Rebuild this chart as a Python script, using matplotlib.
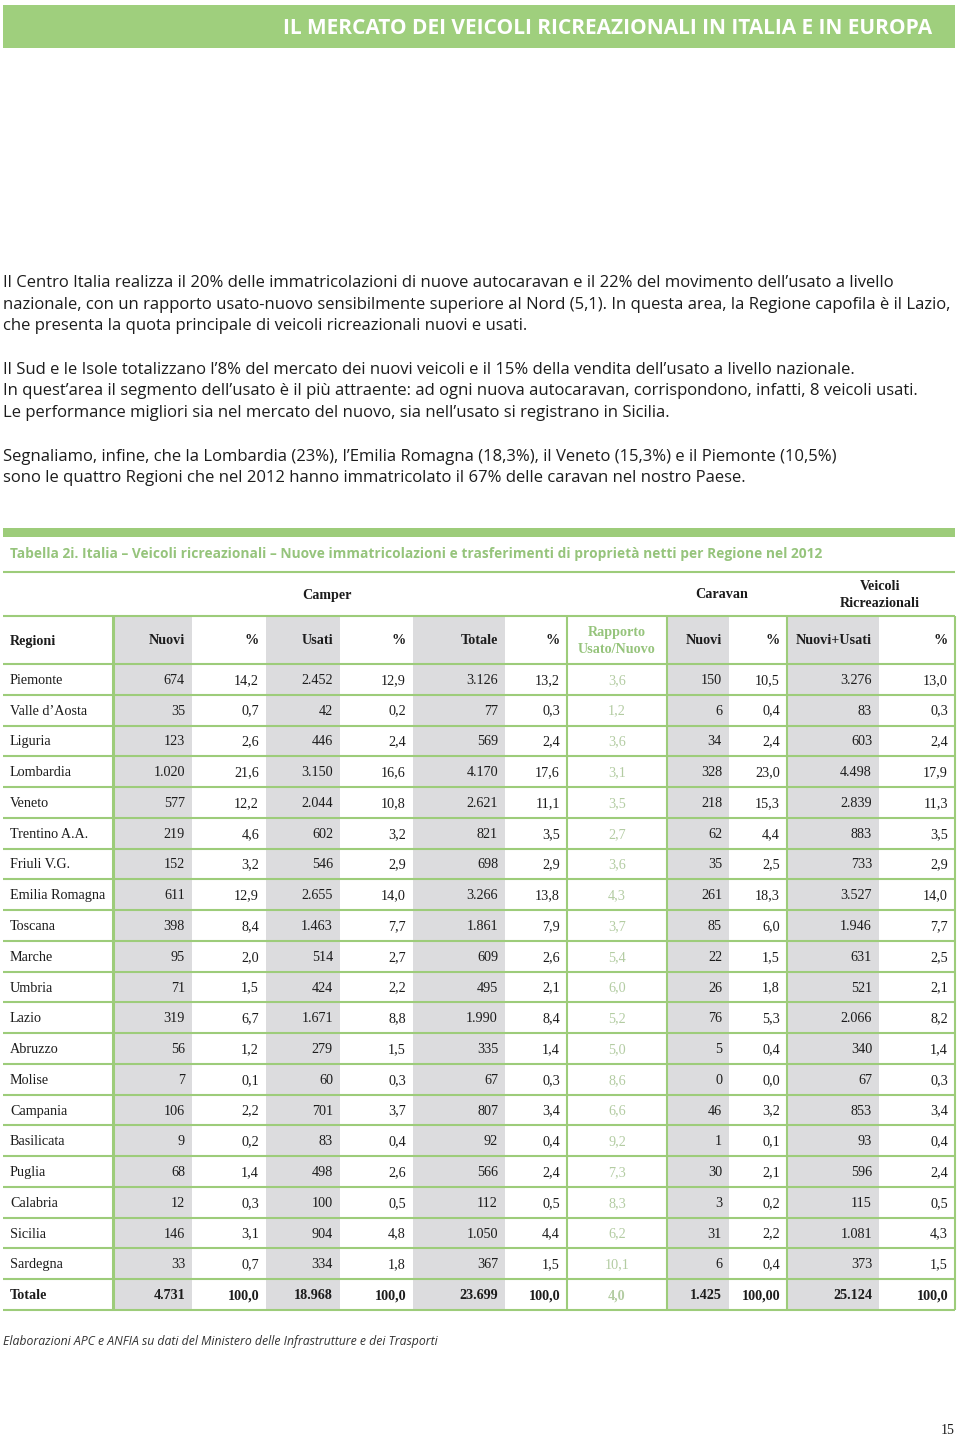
import matplotlib
matplotlib.use('Agg')
import matplotlib.pyplot as plt
from matplotlib.patches import Rectangle

# ---- data ----
regions = ['Piemonte', 'Valle d’Aosta', 'Liguria', 'Lombardia', 'Veneto',
           'Trentino A.A.', 'Friuli V.G.', 'Emilia Romagna', 'Toscana', 'Marche',
           'Umbria', 'Lazio', 'Abruzzo', 'Molise', 'Campania', 'Basilicata',
           'Puglia', 'Calabria', 'Sicilia', 'Sardegna']
camper_nuovi = [674, 35, 123, 1020, 577, 219, 152, 611, 398, 95, 71, 319, 56, 7, 106, 9, 68, 12, 146, 33]
camper_nuovi_pct = [14.2, 0.7, 2.6, 21.6, 12.2, 4.6, 3.2, 12.9, 8.4, 2.0, 1.5, 6.7, 1.2, 0.1, 2.2, 0.2, 1.4, 0.3, 3.1, 0.7]
camper_usati = [2452, 42, 446, 3150, 2044, 602, 546, 2655, 1463, 514, 424, 1671, 279, 60, 701, 83, 498, 100, 904, 334]
camper_usati_pct = [12.9, 0.2, 2.4, 16.6, 10.8, 3.2, 2.9, 14.0, 7.7, 2.7, 2.2, 8.8, 1.5, 0.3, 3.7, 0.4, 2.6, 0.5, 4.8, 1.8]
camper_totale = [3126, 77, 569, 4170, 2621, 821, 698, 3266, 1861, 609, 495, 1990, 335, 67, 807, 92, 566, 112, 1050, 367]
camper_totale_pct = [13.2, 0.3, 2.4, 17.6, 11.1, 3.5, 2.9, 13.8, 7.9, 2.6, 2.1, 8.4, 1.4, 0.3, 3.4, 0.4, 2.4, 0.5, 4.4, 1.5]
rapporto = [3.6, 1.2, 3.6, 3.1, 3.5, 2.7, 3.6, 4.3, 3.7, 5.4, 6.0, 5.2, 5.0, 8.6, 6.6, 9.2, 7.3, 8.3, 6.2, 10.1]
caravan_nuovi = [150, 6, 34, 328, 218, 62, 35, 261, 85, 22, 26, 76, 5, 0, 46, 1, 30, 3, 31, 6]
caravan_pct = [10.5, 0.4, 2.4, 23.0, 15.3, 4.4, 2.5, 18.3, 6.0, 1.5, 1.8, 5.3, 0.4, 0.0, 3.2, 0.1, 2.1, 0.2, 2.2, 0.4]
vr_totale = [3276, 83, 603, 4498, 2839, 883, 733, 3527, 1946, 631, 521, 2066, 340, 67, 853, 93, 596, 115, 1081, 373]
vr_pct = [13.0, 0.3, 2.4, 17.9, 11.3, 3.5, 2.9, 14.0, 7.7, 2.5, 2.1, 8.2, 1.4, 0.3, 3.4, 0.4, 2.4, 0.5, 4.3, 1.5]
totale_row = ['Totale', '4.731', '100,0', '18.968', '100,0', '23.699', '100,0', '4,0',
              '1.425', '100,00', '25.124', '100,0']
col_headers = ['Regioni', 'Nuovi', '%', 'Usati', '%', 'Totale', '%', 'Rapporto\nUsato/Nuovo',
               'Nuovi', '%', 'Nuovi+Usati', '%']

banner = 'IL MERCATO DEI VEICOLI RICREAZIONALI IN ITALIA E IN EUROPA'
paragraphs = [
    ['Il Centro Italia realizza il 20% delle immatricolazioni di nuove autocaravan e il 22% del movimento dell’usato a livello',
     'nazionale, con un rapporto usato-nuovo sensibilmente superiore al Nord (5,1). In questa area, la Regione capofila è il Lazio,',
     'che presenta la quota principale di veicoli ricreazionali nuovi e usati.'],
    ['Il Sud e le Isole totalizzano l’8% del mercato dei nuovi veicoli e il 15% della vendita dell’usato a livello nazionale.',
     'In quest’area il segmento dell’usato è il più attraente: ad ogni nuova autocaravan, corrispondono, infatti, 8 veicoli usati.',
     'Le performance migliori sia nel mercato del nuovo, sia nell’usato si registrano in Sicilia.'],
    ['Segnaliamo, infine, che la Lombardia (23%), l’Emilia Romagna (18,3%), il Veneto (15,3%) e il Piemonte (10,5%)',
     'sono le quattro Regioni che nel 2012 hanno immatricolato il 67% delle caravan nel nostro Paese.'],
]
table_title = 'Tabella 2i. Italia – Veicoli ricreazionali – Nuove immatricolazioni e trasferimenti di proprietà netti per Regione nel 2012'
source = 'Elaborazioni APC e ANFIA su dati del Ministero delle Infrastrutture e dei Trasporti'


def fmt_int(v):
    return '{:,}'.format(v).replace(',', '.')


def fmt_dec(v):
    return '{:.1f}'.format(v).replace('.', ',')


GREEN = '#9dcc7a'
GREEN_TXT = '#96c47c'
RAPP_TXT = '#b3cca2'
GREY = '#dcdcde'
INK = '#1c1c1c'
SERIF = ['Liberation Serif', 'DejaVu Serif']
SANS = ['Open Sans', 'DejaVu Sans']
FS = 10.2

fig = plt.figure(figsize=(9.6, 14.36), dpi=100)
ax = fig.add_axes([0, 0, 1, 1])
ax.set_xlim(0, 960)
ax.set_ylim(1436, 0)
ax.axis('off')

# banner
ax.add_patch(Rectangle((3, 5), 952, 43, color='#9fcf7d', lw=0))
ax.text(932, 28, banner, color='white', fontsize=15, weight='bold', ha='right',
        va='center', family=SANS)

# body text
y = 283
for para in paragraphs:
    for line in para:
        ax.text(3, y, line, fontsize=12.0, family=SANS, color=INK, va='center')
        y += 21.6
    y += 22

# table frame
L, R = 3, 955
col_edges = [3, 113, 192, 266, 340, 413, 505, 567, 667, 729, 787, 879, 955]
shaded = [1, 3, 5, 8, 10]
y_group, y_hdr, y_data = 572, 616, 664
row_h = (1310 - y_data) / 21
y_bottom = y_data + row_h * 21

ax.add_patch(Rectangle((L, 528), R - L, 9, color=GREEN, lw=0))
ax.text(10, 554, table_title, fontsize=9.9, family=SANS, weight='bold',
        color=GREEN_TXT, va='center')

for c in shaded:
    ax.add_patch(Rectangle((col_edges[c], y_hdr), col_edges[c + 1] - col_edges[c],
                           y_bottom - y_hdr, color=GREY, lw=0))

hlines = [y_group, y_hdr] + [y_data + row_h * k for k in range(22)]
for hy in hlines:
    ax.plot([L, R], [hy, hy], color=GREEN, lw=1.5, solid_capstyle='butt')
for vx in [113, 567, 667, 787, 955]:
    ax.plot([vx, vx], [y_hdr, y_bottom], color=GREEN, lw=2.2 if vx == 113 else 1.5,
            solid_capstyle='butt')

# group headers
ax.text(327, 595, 'Camper', fontsize=FS, family=SERIF,
        weight='bold', ha='center', va='center', color=INK)
ax.text(722, 595, 'Caravan', fontsize=FS, family=SERIF,
        weight='bold', ha='center', va='center', color=INK)
ax.text(880, 595, 'Veicoli\nRicreazionali', fontsize=FS,
        family=SERIF, weight='bold', ha='center', va='center', color=INK, linespacing=1.4)

# column headers
y_h = (y_hdr + y_data) / 2 + 1
for c, h in enumerate(col_headers):
    if c == 0:
        ax.text(10, y_h, h, fontsize=FS, family=SERIF, weight='bold', va='center', color=INK)
    elif c == 7:
        ax.text((col_edges[7] + col_edges[8]) / 2, y_h, h, fontsize=FS, family=SERIF,
                weight='bold', ha='center', va='center', color=GREEN_TXT, linespacing=1.35)
    else:
        ax.text(col_edges[c + 1] - 7, y_h, h, fontsize=FS, family=SERIF, weight='bold',
                ha='right', va='center', color=INK)

# data rows
columns = [camper_nuovi, camper_nuovi_pct, camper_usati, camper_usati_pct, camper_totale,
           camper_totale_pct, rapporto, caravan_nuovi, caravan_pct, vr_totale, vr_pct]
for i, reg in enumerate(regions):
    yc = y_data + row_h * (i + 0.5) + 1
    ax.text(10, yc, reg, fontsize=FS, family=SERIF, va='center', color=INK)
    for j, col in enumerate(columns):
        c = j + 1
        v = col[i]
        s = fmt_int(v) if isinstance(v, int) else fmt_dec(v)
        if c == 7:
            ax.text((col_edges[7] + col_edges[8]) / 2, yc, s, fontsize=FS, family=SERIF,
                    ha='center', va='center', color=RAPP_TXT)
        else:
            ax.text(col_edges[c + 1] - 7, yc, s, fontsize=FS, family=SERIF,
                    ha='right', va='center', color=INK)

# total row
yc = y_data + row_h * 20.5 + 1
for c, s in enumerate(totale_row):
    if c == 0:
        ax.text(10, yc, s, fontsize=FS, family=SERIF, weight='bold', va='center', color=INK)
    elif c == 7:
        ax.text((col_edges[7] + col_edges[8]) / 2, yc, s, fontsize=FS, family=SERIF,
                weight='bold', ha='center', va='center', color=RAPP_TXT)
    else:
        ax.text(col_edges[c + 1] - 7, yc, s, fontsize=FS, family=SERIF, weight='bold',
                ha='right', va='center', color=INK)

ax.text(3, 1341, source, fontsize=8.8, family=SANS, style='italic', color='#333333',
        va='center')
ax.text(955, 1430, '15', fontsize=10, family=SERIF, ha='right', va='center', color=INK)

fig.savefig('out.png', dpi=100)
